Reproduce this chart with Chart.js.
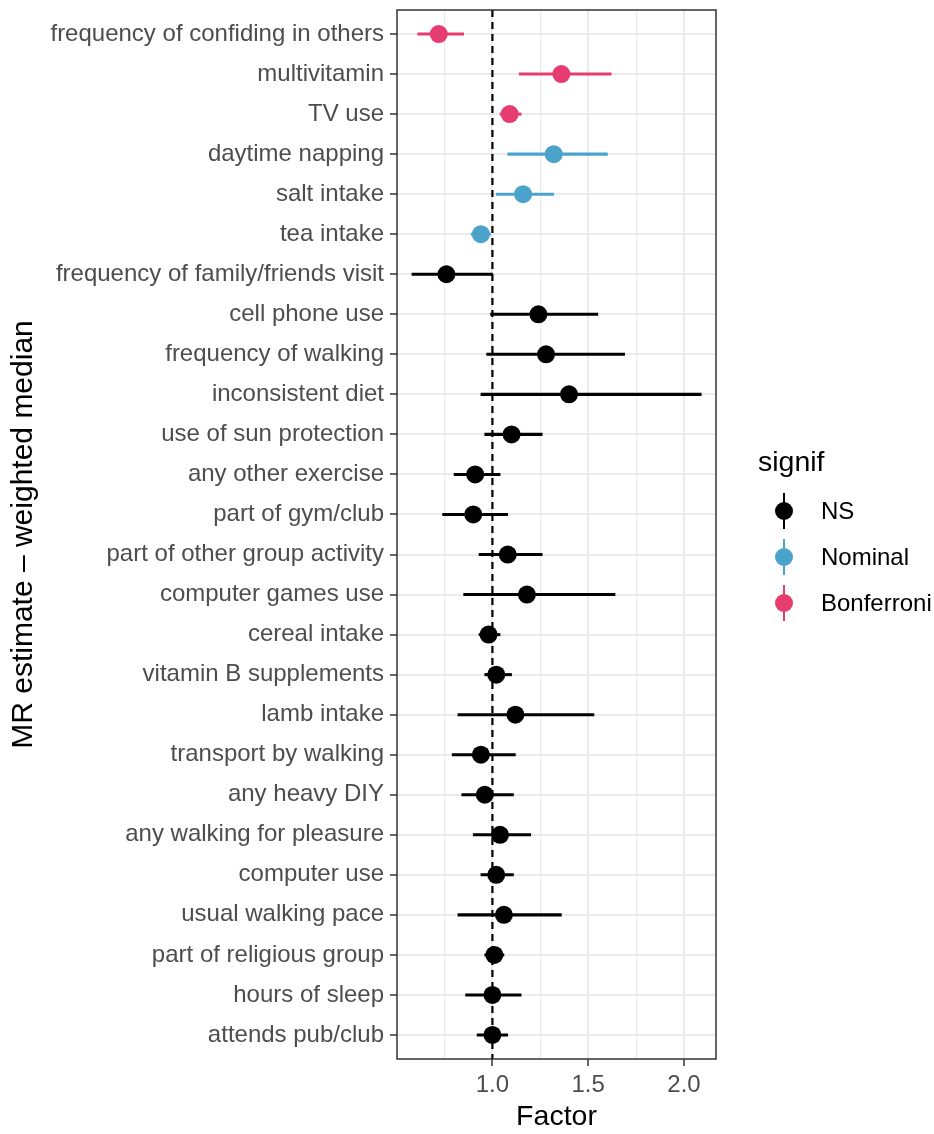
<!DOCTYPE html>
<html>
<head>
<meta charset="utf-8">
<script src="https://cdn.jsdelivr.net/npm/chart.js@4.4.1/dist/chart.umd.min.js"></script>
<style>
  body { margin: 0; background: #fff; font-family: "Liberation Sans", Arial, sans-serif; }
  #wrap { position: relative; width: 934px; height: 1134px; }
  #legend { position: absolute; left: 0; top: 0; }
  .lg-title { position: absolute; left: 758px; top: 446px; font-size: 28.5px; line-height: 30px; color: #000; white-space: nowrap; }
  .lg-bar { position: absolute; width: 2.4px; height: 36px; }
  .lg-dot { position: absolute; width: 18px; height: 18px; border-radius: 50%; }
  .lg-label { position: absolute; font-size: 24px; line-height: 26px; color: #000; white-space: nowrap; }
</style>
</head>
<body>
<div id="wrap">
  <canvas id="mrChart" width="934" height="1134"></canvas>
  <div id="legend"></div>
</div>
<script>
// ---- data (top row first) ----
const FACTORS = [
  'frequency of confiding in others', 'multivitamin', 'TV use', 'daytime napping',
  'salt intake', 'tea intake', 'frequency of family/friends visit', 'cell phone use',
  'frequency of walking', 'inconsistent diet', 'use of sun protection', 'any other exercise',
  'part of gym/club', 'part of other group activity', 'computer games use', 'cereal intake',
  'vitamin B supplements', 'lamb intake', 'transport by walking', 'any heavy DIY',
  'any walking for pleasure', 'computer use', 'usual walking pace', 'part of religious group',
  'hours of sleep', 'attends pub/club'
];
const ESTIMATE = [0.72, 1.36, 1.09, 1.32, 1.16, 0.94, 0.76, 1.24, 1.28, 1.40, 1.10, 0.91, 0.90,
                  1.08, 1.18, 0.98, 1.02, 1.12, 0.94, 0.96, 1.04, 1.02, 1.06, 1.01, 1.00, 1.00];
const CI_LOW   = [0.61, 1.14, 1.04, 1.08, 1.02, 0.89, 0.58, 0.99, 0.97, 0.94, 0.96, 0.80, 0.74,
                  0.93, 0.85, 0.93, 0.96, 0.82, 0.79, 0.84, 0.90, 0.94, 0.82, 0.96, 0.86, 0.92];
const CI_HIGH  = [0.85, 1.62, 1.15, 1.60, 1.32, 0.99, 1.00, 1.55, 1.69, 2.09, 1.26, 1.04, 1.08,
                  1.26, 1.64, 1.04, 1.10, 1.53, 1.12, 1.11, 1.20, 1.11, 1.36, 1.06, 1.15, 1.08];
const SIGNIF   = ['Bonferroni', 'Bonferroni', 'Bonferroni', 'Nominal', 'Nominal', 'Nominal',
                  'NS', 'NS', 'NS', 'NS', 'NS', 'NS', 'NS', 'NS', 'NS', 'NS', 'NS', 'NS', 'NS',
                  'NS', 'NS', 'NS', 'NS', 'NS', 'NS', 'NS'];
const SIGNIF_LEVELS = ['NS', 'Nominal', 'Bonferroni'];
const REF_LINE = 1;
const X_MAJOR = [1.0, 1.5, 2.0];
const X_MINOR = [0.75, 1.25, 1.75];

// ---- style ----
const COLORS = { NS: '#000000', Nominal: '#4BA3CC', Bonferroni: '#E73C70' };
const FONT = '"Liberation Sans", Arial, sans-serif';
const GRID = '#EBEBEB';
const X_MIN = 0.502, X_MAX = 2.167;
const Y_MIN = 0.4, Y_MAX = FACTORS.length + 0.6;

const rowY = FACTORS.map((_, i) => i + 1);
const pointColors = SIGNIF.map(s => COLORS[s]);

// panel border (all four sides)
const panelBorder = {
  id: 'panelBorder',
  afterDatasetsDraw(chart) {
    const a = chart.chartArea, ctx = chart.ctx;
    ctx.save();
    ctx.strokeStyle = '#333333';
    ctx.lineWidth = 1.5;
    ctx.strokeRect(a.left, a.top, a.right - a.left, a.bottom - a.top);
    ctx.restore();
  }
};

new Chart(document.getElementById('mrChart'), {
  type: 'bar',
  data: {
    datasets: [
      {
        type: 'line',
        data: [{ x: REF_LINE, y: Y_MIN }, { x: REF_LINE, y: Y_MAX }],
        borderColor: '#000',
        borderWidth: 2.2,
        borderDash: [7, 5],
        pointRadius: 0,
        order: 3
      },
      {
        type: 'bar',
        data: rowY.map((y, i) => ({ y: y, x: [CI_LOW[i], CI_HIGH[i]] })),
        backgroundColor: pointColors,
        barThickness: 2.4,
        borderWidth: 0,
        order: 2
      },
      {
        type: 'scatter',
        data: rowY.map((y, i) => ({ y: y, x: ESTIMATE[i] })),
        pointBackgroundColor: pointColors,
        pointBorderWidth: 0,
        pointRadius: 9,
        pointHoverRadius: 9,
        order: 1
      }
    ]
  },
  options: {
    indexAxis: 'y',
    responsive: false,
    animation: false,
    layout: { padding: { left: 0, top: 10, right: 218, bottom: 0 } },
    plugins: { legend: { display: false }, tooltip: { enabled: false } },
    scales: {
      x: {
        type: 'linear',
        min: X_MIN, max: X_MAX,
        offset: false,
        afterBuildTicks: s => { s.ticks = X_MINOR.concat(X_MAJOR).sort((a, b) => a - b).map(v => ({ value: v })); },
        afterFit: s => { s.height = 75; s.paddingLeft = 0; s.paddingRight = 0; },
        ticks: {
          autoSkip: false,
          maxRotation: 0,
          padding: 5,
          color: '#4D4D4D',
          font: { family: FONT, size: 24 },
          callback: v => X_MAJOR.includes(v) ? v.toFixed(1) : ''
        },
        grid: {
          color: GRID,
          lineWidth: c => (c.tick && X_MAJOR.includes(c.tick.value)) ? 2 : 1.2,
          tickColor: c => (c.tick && X_MAJOR.includes(c.tick.value)) ? '#333333' : 'rgba(0,0,0,0)',
          tickLength: 7,
          tickWidth: 1.5
        },
        border: { display: false },
        title: {
          display: true, text: 'Factor', color: '#000',
          font: { family: FONT, size: 28.5 },
          padding: { top: 0, bottom: 0 }
        }
      },
      y: {
        type: 'linear',
        reverse: true,
        min: Y_MIN, max: Y_MAX,
        offset: false,
        afterBuildTicks: s => { s.ticks = rowY.map(v => ({ value: v })); },
        afterFit: s => { s.width = 397; s.paddingTop = 0; s.paddingBottom = 0; },
        ticks: {
          autoSkip: false,
          padding: 6,
          color: '#4D4D4D',
          font: { family: FONT, size: 24 },
          callback: v => FACTORS[v - 1]
        },
        grid: {
          offset: false,
          color: GRID,
          lineWidth: 2,
          tickColor: '#333333',
          tickLength: 7,
          tickWidth: 1.5
        },
        border: { display: false },
        title: {
          display: true, text: 'MR estimate \u2013 weighted median', color: '#000',
          font: { family: FONT, size: 30 },
          padding: { top: 6, bottom: 0 }
        }
      }
    }
  },
  plugins: [panelBorder]
});

// ---- legend (HTML) ----
const legend = document.getElementById('legend');
legend.innerHTML = '<div class="lg-title">signif</div>';
SIGNIF_LEVELS.forEach((lvl, i) => {
  const cy = 511 + i * 46;
  const c = COLORS[lvl];
  legend.insertAdjacentHTML('beforeend',
    `<div class="lg-bar" style="left:${783}px;top:${cy - 18}px;background:${c}"></div>` +
    `<div class="lg-dot" style="left:${775}px;top:${cy - 9}px;background:${c}"></div>` +
    `<div class="lg-label" style="left:821px;top:${cy - 13}px">${lvl}</div>`);
});
</script>
</body>
</html>
